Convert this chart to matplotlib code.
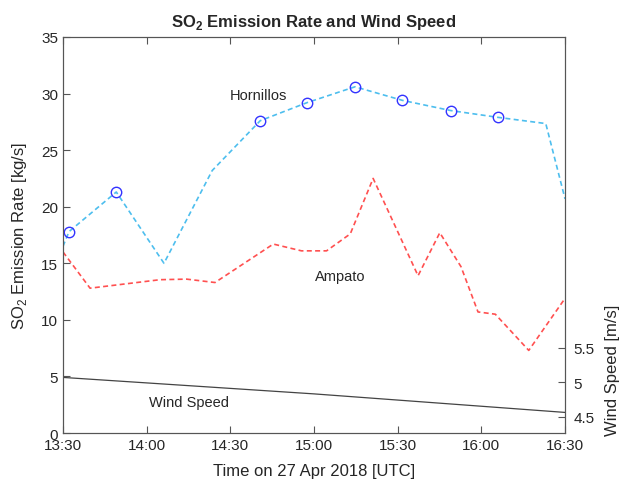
import matplotlib
matplotlib.use('Agg')
import matplotlib.pyplot as plt
import matplotlib.dates as mdates
import pandas as pd

plt.rcParams['font.family'] = ['Liberation Sans', 'DejaVu Sans']
plt.rcParams['mathtext.fontset'] = 'custom'
plt.rcParams['mathtext.rm'] = 'Liberation Sans'
plt.rcParams['mathtext.bf'] = 'Liberation Sans:bold'

day = '2018-04-27 '

# Hornillos SO2 emission rate [kg/s]
horn_times = ['13:30:00', '13:32:09', '13:49:06', '14:06:12', '14:23:30', '14:40:42',
              '14:57:30', '15:14:42', '15:31:42', '15:49:00', '16:05:54', '16:23:06', '16:30:00']
horn_vals = [16.5, 17.8, 21.3, 15.0, 23.2, 27.6, 29.2, 30.6, 29.4, 28.5, 27.9, 27.35, 20.7]
horn_marked = [1, 2, 5, 6, 7, 8, 9, 10]

# Ampato SO2 emission rate [kg/s]
amp_times = ['13:30:00', '13:39:42', '14:04:48', '14:14:18', '14:24:30', '14:45:24',
             '14:55:30', '15:04:30', '15:13:00', '15:21:12', '15:37:18', '15:45:06',
             '15:52:42', '15:58:48', '16:05:00', '16:17:00', '16:30:00']
amp_vals = [16.0, 12.8, 13.55, 13.6, 13.3, 16.7, 16.1, 16.1, 17.6, 22.5, 13.9, 17.7,
            14.7, 10.7, 10.5, 7.3, 11.9]

# wind speed [m/s]
wind_times = ['13:30:00', '15:00:00', '16:30:00']
wind_vals = [5.07, 4.83, 4.56]

tick_times = ['13:30', '14:00', '14:30', '15:00', '15:30', '16:00', '16:30']

ht = pd.to_datetime([day + t for t in horn_times])
at = pd.to_datetime([day + t for t in amp_times])
wt = pd.to_datetime([day + t for t in wind_times])
xt = pd.to_datetime([day + t for t in tick_times])

axcol = '#555555'
txtcol = '#262626'

fig = plt.figure(figsize=(6.19, 4.81), dpi=100)
ax = fig.add_axes([0.1018, 0.0977, 0.811, 0.8233])
ax2 = ax.twinx()

ax.plot(ht, horn_vals, '--', color='#4dbeee', linewidth=1.2, dashes=(3, 2))
ax.plot(ht[horn_marked], [horn_vals[i] for i in horn_marked], 'o',
        markerfacecolor='none', markeredgecolor='#3333ff', markersize=7.5, markeredgewidth=1)
ax.plot(at, amp_vals, '--', color='#ff5050', linewidth=1.2, dashes=(3, 2))
ax2.plot(wt, wind_vals, '-', color='#444444', linewidth=0.9)

ax.set_xlim(xt[0], xt[-1])
ax.set_ylim(0, 35)
ax.set_yticks(range(0, 36, 5))
ax.set_xticks(xt)
ax.xaxis.set_major_formatter(mdates.DateFormatter('%H:%M'))
ax2.set_ylim(4.26, 10.03)
ax2.set_yticks([4.5, 5, 5.5])
ax2.set_yticklabels(['4.5', '5', '5.5'])

ax.tick_params(axis='x', direction='in', top=True, length=5, colors=axcol,
               labelcolor=txtcol, labelsize=11)
ax.tick_params(axis='y', direction='in', length=5, colors=axcol,
               labelcolor=txtcol, labelsize=11)
ax2.tick_params(axis='y', direction='in', length=5, colors=axcol,
                labelcolor=txtcol, labelsize=11, pad=6)
for a in (ax, ax2):
    for s in a.spines.values():
        s.set_color(axcol)
        s.set_linewidth(0.8)

ax.set_title(r'SO$_\mathbf{2}$ Emission Rate and Wind Speed', fontsize=12, fontweight='bold',
             color=txtcol, pad=8)
ax.set_xlabel('Time on 27 Apr 2018 [UTC]', fontsize=12, color=txtcol)
ax.xaxis.set_label_coords(0.5, -0.075)
ax.set_ylabel('SO$_2$ Emission Rate [kg/s]', fontsize=12, color=txtcol)
ax.yaxis.set_label_coords(-0.067, 0.5)
ax2.set_ylabel('Wind Speed [m/s]', fontsize=12, color=txtcol)
ax2.yaxis.set_label_coords(1.079, 0.16)

ax.text(pd.Timestamp(day + '14:40'), 29.9, 'Hornillos', fontsize=10.5, color=txtcol,
        ha='center', va='center')
ax.text(pd.Timestamp(day + '15:09:20'), 13.9, 'Ampato', fontsize=10.5, color=txtcol,
        ha='center', va='center')
ax.text(pd.Timestamp(day + '14:15'), 2.7, 'Wind Speed', fontsize=10.5, color=txtcol,
        ha='center', va='center')

plt.savefig('out.png', dpi=100)
plt.close(fig)
